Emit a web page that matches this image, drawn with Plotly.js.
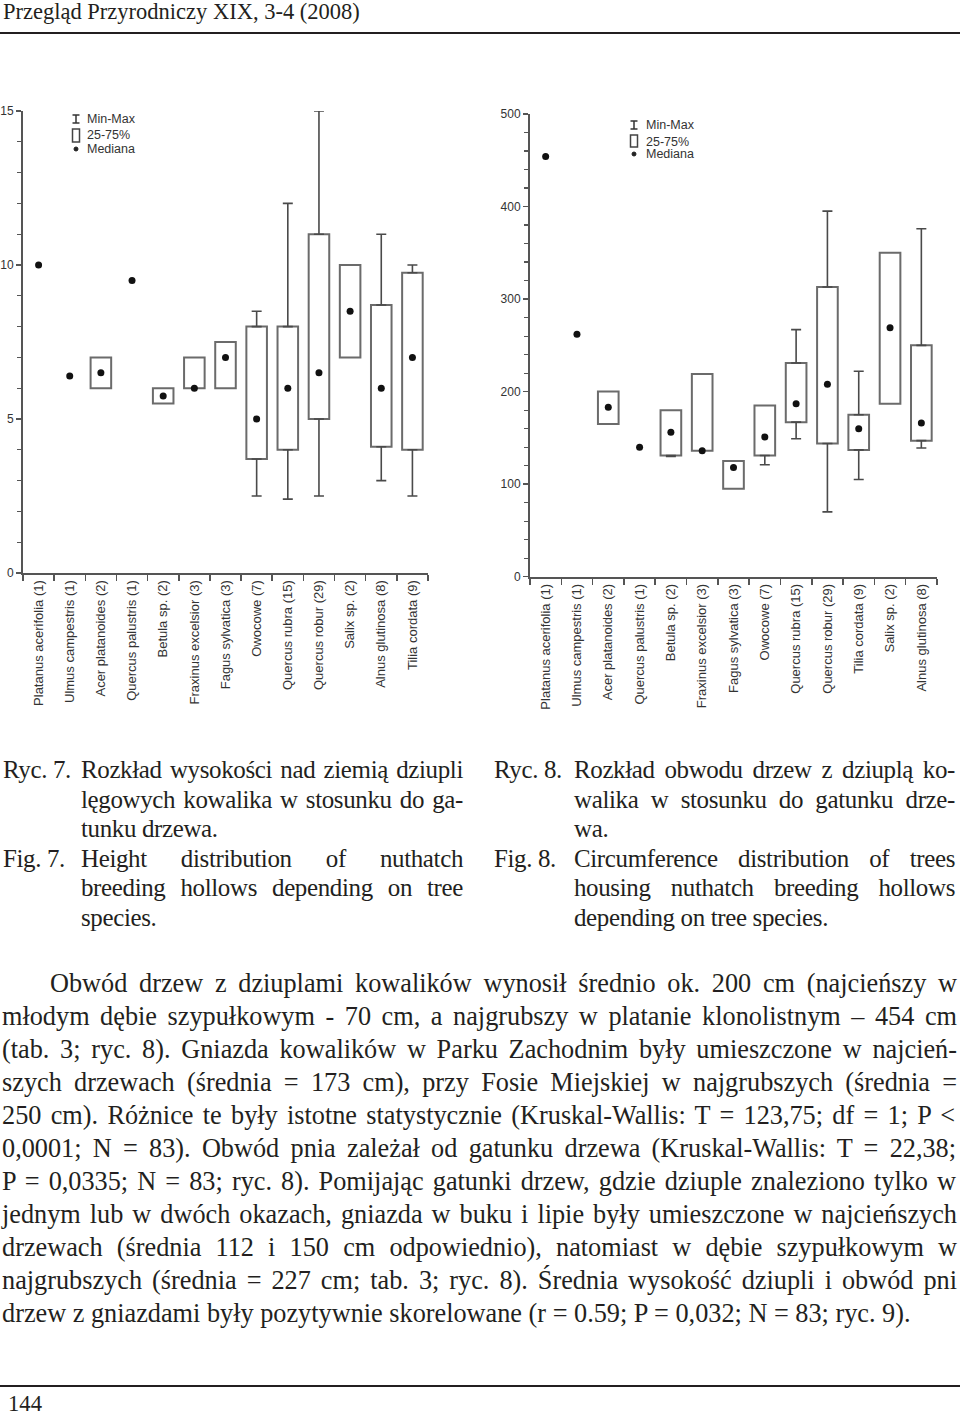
<!DOCTYPE html>
<html>
<head>
<meta charset="utf-8">
<script src="https://cdn.plot.ly/plotly-3.0.1.min.js"></script>
<style>
html, body { margin: 0; padding: 0; background: #fff; }
#page { position: relative; width: 960px; height: 1416px; overflow: hidden; background: #fff; }
#chart { position: absolute; left: 0; top: 0; width: 960px; height: 1416px; }
#text { position: absolute; left: 0; top: 0; width: 960px; height: 1416px; pointer-events: none; }
.t { position: absolute; font-family: "Liberation Serif", serif; color: #231f20; white-space: pre; }
.rule { position: absolute; left: 0; width: 960px; height: 2px; background: #231f20; }
</style>
</head>
<body>
<div id="page">
  <div id="chart"></div>
  <div id="text"></div>
</div>
<script>
// Ryc. 7 - height of nest hollow (m)
const heightCats = ["Platanus acerifolia (1)", "Ulmus campestris (1)", "Acer platanoides (2)", "Quercus palustris (1)",
  "Betula sp. (2)", "Fraxinus excelsior (3)", "Fagus sylvatica (3)", "Owocowe (7)", "Quercus rubra (15)",
  "Quercus robur (29)", "Salix sp. (2)", "Alnus glutinosa (8)", "Tilia cordata (9)"];
const heightMin = [null, null, null, null, null, null, null, 2.5, 2.4, 2.5, null, 3, 2.5];
const heightQ1  = [null, null, 6, null, 5.5, 6, 6, 3.7, 4, 5, 7, 4.1, 4];
const heightMed = [10, 6.4, 6.5, 9.5, 5.75, 6, 7, 5, 6, 6.5, 8.5, 6, 7];
const heightQ3  = [null, null, 7, null, 6, 7, 7.5, 8, 8, 11, 10, 8.7, 9.75];
const heightMax = [null, null, null, null, null, null, null, 8.5, 12, 15, null, 11, 10];

// Ryc. 8 - tree circumference (cm)
const circCats = ["Platanus acerifolia (1)", "Ulmus campestris (1)", "Acer platanoides (2)", "Quercus palustris (1)",
  "Betula sp. (2)", "Fraxinus excelsior (3)", "Fagus sylvatica (3)", "Owocowe (7)", "Quercus rubra (15)",
  "Quercus robur (29)", "Tilia cordata (9)", "Salix sp. (2)", "Alnus glutinosa (8)"];
const circMin = [null, null, null, null, 130, null, null, 121, 149, 70, 105, null, 139];
const circQ1  = [null, null, 165, null, 131, 136, 95, 131, 167, 144, 137, 187, 147];
const circMed = [454, 262, 183, 140, 156, 136, 118, 151, 187, 208, 160, 269, 166];
const circQ3  = [null, null, 200, null, 180, 219, 125, 185, 231, 313, 175, 350, 250];
const circMax = [null, null, null, null, null, null, null, null, 267, 395, 222, null, 376];

const legendLabels = ["Min-Max", "25-75%", "Mediana"];

const headerText = "Przegląd Przyrodniczy XIX, 3-4 (2008)";
const pageNo = "144";

const capLeft = [
  ["Ryc. 7.", "Rozkład wysokości nad ziemią dziupli", true],
  ["", "lęgowych kowalika w stosunku do ga-", true],
  ["", "tunku drzewa.", false],
  ["Fig. 7.", "Height distribution of nuthatch", true],
  ["", "breeding hollows depending on tree", true],
  ["", "species.", false]
];
const capRight = [
  ["Ryc. 8.", "Rozkład obwodu drzew z dziuplą ko-", true],
  ["", "walika w stosunku do gatunku drze-", true],
  ["", "wa.", false],
  ["Fig. 8.", "Circumference distribution of trees", true],
  ["", "housing nuthatch breeding hollows", true],
  ["", "depending on tree species.", false]
];
const bodyLines = [
  "Obwód drzew z dziuplami kowalików wynosił średnio ok. 200 cm (najcieńszy w",
  "młodym dębie szypułkowym - 70 cm, a najgrubszy w platanie klonolistnym – 454 cm",
  "(tab. 3; ryc. 8). Gniazda kowalików w Parku Zachodnim były umieszczone w najcień-",
  "szych drzewach (średnia = 173 cm), przy Fosie Miejskiej w najgrubszych (średnia =",
  "250 cm). Różnice te były istotne statystycznie (Kruskal-Wallis: T = 123,75; df = 1; P <",
  "0,0001; N = 83). Obwód pnia zależał od gatunku drzewa (Kruskal-Wallis: T = 22,38;",
  "P = 0,0335; N = 83; ryc. 8). Pomijając gatunki drzew, gdzie dziuple znaleziono tylko w",
  "jednym lub w dwóch okazach, gniazda w buku i lipie były umieszczone w najcieńszych",
  "drzewach (średnia 112 i 150 cm odpowiednio), natomiast w dębie szypułkowym w",
  "najgrubszych (średnia = 227 cm; tab. 3; ryc. 8). Średnia wysokość dziupli i obwód pni",
  "drzew z gniazdami były pozytywnie skorelowane (r = 0.59; P = 0,032; N = 83; ryc. 9)."
];

// ---- page text ----
const W = 960, H = 1416;
const ctx = document.createElement("canvas").getContext("2d");
function textW(s, size, ls) {
  ctx.font = size + 'px "Liberation Serif"';
  return ctx.measureText(s).width + (ls || 0) * s.length;
}
function fitSize(s, w) { return 100 * w / textW(s, 100); }

const textBox = document.getElementById("text");
function putLine(s, x, base, size, w, justify, ls) {
  ls = ls || 0;
  const d = document.createElement("div");
  d.className = "t";
  d.textContent = s;
  d.style.left = x + "px";
  d.style.top = (base - 0.8375 * size) + "px";
  d.style.fontSize = size + "px";
  d.style.lineHeight = "1";
  if (ls) d.style.letterSpacing = ls + "px";
  if (justify) {
    const n = (s.match(/ /g) || []).length;
    if (n) d.style.wordSpacing = ((w - textW(s, size, ls)) / n) + "px";
  }
  textBox.appendChild(d);
}
function rule(y) {
  const r = document.createElement("div");
  r.className = "rule";
  r.style.top = y + "px";
  textBox.appendChild(r);
}

putLine(headerText, 3, 19.5, Math.min(22.5, fitSize(headerText, 374)), 0, false);
rule(32);
rule(1385);
putLine(pageNo, 8, 1412, fitSize(pageNo, 34), 0, false);

const bodySize = fitSize(bodyLines[10], 910);

// captions: a touch smaller than the body, tightened just enough for each justified line to fit
const capSize = 0.95 * bodySize;
let capLs = 0;
function tighten(c, w) {
  if (!c[2]) return;
  const need = (0.975 * w - textW(c[1], capSize)) / c[1].length;
  capLs = Math.min(capLs, need);
}
capLeft.forEach(c => tighten(c, 382));
capRight.forEach(c => tighten(c, 381));

capLeft.forEach((c, i) => {
  const b = 779 + i * 29.6;
  if (c[0]) putLine(c[0], 3, b, capSize, 0, false, capLs);
  putLine(c[1], 81, b, capSize, 382, c[2], capLs);
});
capRight.forEach((c, i) => {
  const b = 779 + i * 29.6;
  if (c[0]) putLine(c[0], 494, b, capSize, 0, false, capLs);
  putLine(c[1], 574, b, capSize, 381, c[2], capLs);
});

bodyLines.forEach((s, i) => {
  const b = 993 + i * 33;
  const x = i === 0 ? 50 : 2;
  putLine(s, x, b, bodySize, 957 - x, i < 10);
});

// ---- charts ----
const px = x => x / W;
const py = y => 1 - y / H;
const sub = (a, b) => a.map((v, i) => (v == null || b[i] == null) ? null : v - b[i]);
const zeros = a => a.map(() => 0);

const axisCol = "#555", boxCol = "#6b6b6b", whiskCol = "#4a4a4a";
const xFont = { family: "Liberation Sans, Arial, sans-serif", size: 13, color: "#333" };
const yFont = { family: "Liberation Sans, Arial, sans-serif", size: 12, color: "#333" };

function boxTraces(cats, mn, q1, med, q3, mx, xa, ya, cap) {
  return [
    { type: "bar", x: cats, y: sub(q3, q1), base: q1, width: 0.66, xaxis: xa, yaxis: ya,
      marker: { color: "#fff", line: { color: boxCol, width: 2 } }, hoverinfo: "skip", showlegend: false },
    { type: "scatter", mode: "markers", x: cats, y: mx.map((v, i) => v == null ? null : q3[i]), xaxis: xa, yaxis: ya,
      marker: { size: 1, color: "rgba(0,0,0,0)" },
      error_y: { type: "data", symmetric: false, array: sub(mx, q3), arrayminus: zeros(mx),
        width: cap, thickness: 1.6, color: whiskCol },
      hoverinfo: "skip", showlegend: false },
    { type: "scatter", mode: "markers", x: cats, y: mn.map((v, i) => v == null ? null : q1[i]), xaxis: xa, yaxis: ya,
      marker: { size: 1, color: "rgba(0,0,0,0)" },
      error_y: { type: "data", symmetric: false, array: zeros(mn), arrayminus: sub(q1, mn),
        width: cap, thickness: 1.6, color: whiskCol },
      hoverinfo: "skip", showlegend: false },
    { type: "scatter", mode: "markers", x: cats, y: med, xaxis: xa, yaxis: ya,
      marker: { size: 7, color: "#111", symbol: "circle" }, hoverinfo: "skip", showlegend: false }
  ];
}

const data = [].concat(
  boxTraces(heightCats, heightMin, heightQ1, heightMed, heightQ3, heightMax, "x", "y", 5),
  boxTraces(circCats, circMin, circQ1, circMed, circQ3, circMax, "x2", "y2", 5)
);

function xAxis(d0, d1, anchor) {
  return {
    domain: [px(d0), px(d1)], anchor: anchor, type: "category", range: [-0.5, 12.5],
    tickson: "boundaries", ticks: "outside", ticklen: 6, tickwidth: 1.5, tickcolor: axisCol,
    tickangle: -90, tickfont: xFont, showline: true, linecolor: axisCol, linewidth: 2,
    showgrid: false, zeroline: false, fixedrange: true
  };
}
function yAxis(b, t, range, vals, minorStep, anchor) {
  return {
    domain: [py(b), py(t)], anchor: anchor, range: range, tickvals: vals,
    ticks: "outside", ticklen: 5, tickwidth: 1.5, tickcolor: axisCol, tickfont: yFont,
    showline: true, linecolor: axisCol, linewidth: 2, showgrid: false, zeroline: false, fixedrange: true,
    minor: { dtick: minorStep, tick0: 0, ticks: "outside", ticklen: 4, tickwidth: 1.2, tickcolor: axisCol, showgrid: false }
  };
}

// legend boxes drawn as shapes + annotations
function legend(cx, yMM, yRect0, yRect1, yMed, tx, yT) {
  const L = { type: "line", xref: "paper", yref: "paper", line: { color: "#333", width: 1.5 } };
  const shapes = [
    Object.assign({}, L, { x0: px(cx), x1: px(cx), y0: py(yMM - 4), y1: py(yMM + 4) }),
    Object.assign({}, L, { x0: px(cx - 3.5), x1: px(cx + 3.5), y0: py(yMM - 4), y1: py(yMM - 4) }),
    Object.assign({}, L, { x0: px(cx - 3.5), x1: px(cx + 3.5), y0: py(yMM + 4), y1: py(yMM + 4) }),
    { type: "rect", xref: "paper", yref: "paper", x0: px(cx - 3.5), x1: px(cx + 3.5), y0: py(yRect1), y1: py(yRect0),
      line: { color: "#444", width: 1.5 }, fillcolor: "rgba(0,0,0,0)" },
    { type: "circle", xref: "paper", yref: "paper", x0: px(cx - 2), x1: px(cx + 2), y0: py(yMed + 2), y1: py(yMed - 2),
      line: { color: "#222", width: 1 }, fillcolor: "#222" }
  ];
  const anns = legendLabels.map((s, i) => ({
    text: s, xref: "paper", yref: "paper", x: px(tx), y: py(yT[i]), xanchor: "left", yanchor: "middle",
    showarrow: false, font: { family: "Liberation Sans, Arial, sans-serif", size: 12.5, color: "#333" }
  }));
  return { shapes, anns };
}
const legL = legend(76, 119, 129, 142, 149, 85, [119, 135, 149]);
const legR = legend(634, 125, 135, 147, 154, 644, [125, 142, 154]);

const layout = {
  width: W, height: H, autosize: false,
  margin: { l: 0, r: 0, t: 0, b: 0, pad: 0 },
  paper_bgcolor: "#fff", plot_bgcolor: "rgba(0,0,0,0)",
  showlegend: false, bargap: 0,
  xaxis: xAxis(23, 428, "y"),
  yaxis: yAxis(573, 111, [0, 15], [0, 5, 10, 15], 1, "x"),
  xaxis2: xAxis(530, 937, "y2"),
  yaxis2: yAxis(576.7, 114, [0, 500], [0, 100, 200, 300, 400, 500], 20, "x2"),
  shapes: legL.shapes.concat(legR.shapes),
  annotations: legL.anns.concat(legR.anns)
};

Plotly.newPlot("chart", data, layout, { staticPlot: true, displayModeBar: false });
</script>
</body>
</html>
